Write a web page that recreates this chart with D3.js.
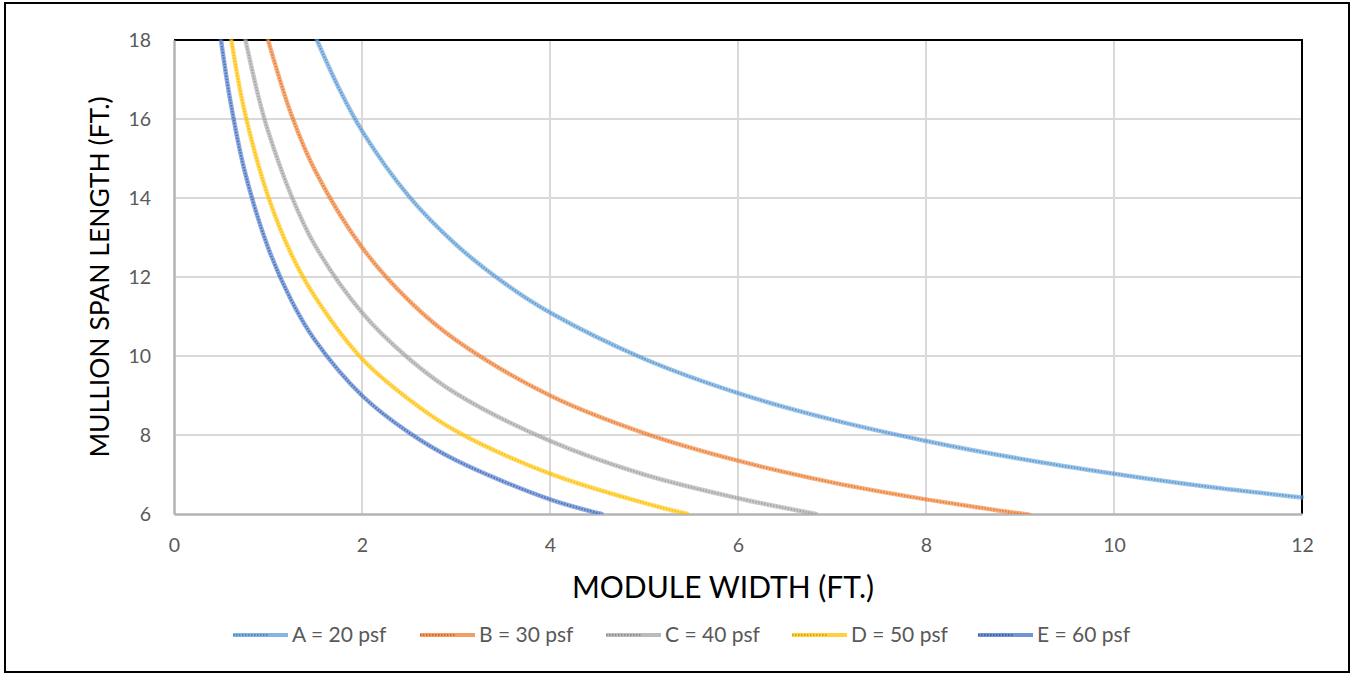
<!DOCTYPE html>
<html><head><meta charset="utf-8">
<script src="https://cdn.jsdelivr.net/npm/d3@7"></script>
<style>body{margin:0;background:#fff}svg{display:block}</style>
</head><body>
<svg id="c" width="1351" height="675"></svg>
<script>
// Data
const seriesNames = ["A = 20 psf", "B = 30 psf", "C = 40 psf", "D = 50 psf", "E = 60 psf"];
const seriesColors = ["#5b9bd5", "#ed7d31", "#a5a5a5", "#ffc000", "#4472c4"];
const xA = [1.52, 1.75, 2, 2.5, 3, 3.5, 4, 5, 6, 7, 8, 9, 10, 11, 12];
const yA = [18, 16.8, 15.7, 14.04, 12.82, 11.87, 11.1, 9.93, 9.06, 8.39, 7.85, 7.4, 7.02, 6.69, 6.42];
const xB = [1.0, 1.25, 1.5, 2, 2.5, 3, 4, 5, 6, 7, 8, 9.1];
const yB = [18, 16.1, 14.7, 12.75, 11.4, 10.4, 9.0, 8.05, 7.35, 6.8, 6.37, 5.98];
const xC = [0.76, 0.9, 1.0, 1.25, 1.5, 2, 2.5, 3, 4, 5, 6, 6.83];
const yC = [18, 16.55, 15.7, 14.05, 12.8, 11.1, 9.93, 9.05, 7.85, 7.0, 6.4, 6.0];
const xD = [0.61, 0.75, 1.0, 1.25, 1.5, 2, 2.5, 3, 4, 5, 5.46];
const yD = [18, 16.2, 14.05, 12.57, 11.5, 9.93, 8.9, 8.1, 7.02, 6.28, 6.0];
const xE = [0.5, 0.6, 0.75, 1.0, 1.25, 1.5, 2, 2.5, 3, 4, 4.55];
const yE = [18, 16.45, 14.7, 12.75, 11.4, 10.4, 9.0, 8.06, 7.36, 6.37, 6.0];
const xTicks = [0, 2, 4, 6, 8, 10, 12];
const yTicks = [6, 8, 10, 12, 14, 16, 18];
const xTitle = "MODULE WIDTH (FT.)";
const yTitle = "MULLION SPAN LENGTH (FT.)";

const seriesX = [xA, xB, xC, xD, xE];
const seriesY = [yA, yB, yC, yD, yE];

const svg = d3.select("#c");
const FONT = "Lato, 'Open Sans', sans-serif";
const L = 174, R = 1302, T = 40, B = 514;
const x = d3.scaleLinear().domain([0, 12]).range([L, R]);
const y = d3.scaleLinear().domain([6, 18]).range([B, T]);

// outer border
svg.append("rect").attr("x", 5).attr("y", 3).attr("width", 1344).attr("height", 669)
  .attr("fill", "#fff").attr("stroke", "#000").attr("stroke-width", 2);

// gridlines
svg.append("g").selectAll("line").data(xTicks.slice(1, -1)).join("line")
  .attr("x1", d => x(d)).attr("x2", d => x(d)).attr("y1", T).attr("y2", B)
  .attr("stroke", "#d9d9d9").attr("stroke-width", 2);
svg.append("g").selectAll("line").data(yTicks.slice(1, -1)).join("line")
  .attr("x1", L).attr("x2", R).attr("y1", d => y(d)).attr("y2", d => y(d))
  .attr("stroke", "#d9d9d9").attr("stroke-width", 2);

// plot frame: top & right black
svg.append("line").attr("x1", L).attr("x2", R + 1).attr("y1", T).attr("y2", T).attr("stroke", "#000").attr("stroke-width", 2);
svg.append("line").attr("x1", R).attr("x2", R).attr("y1", T).attr("y2", B).attr("stroke", "#000").attr("stroke-width", 2);

// axes
const xAxis = svg.append("g").attr("transform", `translate(0,${B})`)
  .call(d3.axisBottom(x).tickValues(xTicks).tickSize(0).tickPadding(24).tickFormat(d3.format("d")));
const yAxis = svg.append("g").attr("transform", `translate(${L},0)`)
  .call(d3.axisLeft(y).tickValues(yTicks).tickSize(0).tickPadding(23).tickFormat(d3.format("d")));
[xAxis, yAxis].forEach(g => {
  g.select(".domain").attr("stroke", "#b3b3b3").attr("stroke-width", 2.5);
  g.selectAll("text").attr("font-family", FONT).attr("font-size", 19.5).attr("fill", "#595959");
});

// series
const line = d3.line().x(d => x(d[0])).y(d => y(d[1])).curve(d3.curveCatmullRom.alpha(0.5));
svg.append("clipPath").attr("id", "pc").append("rect")
  .attr("x", L).attr("y", T - 1).attr("width", R - L + 2).attr("height", B - T + 1);
const gs = svg.append("g").attr("clip-path", "url(#pc)");
seriesX.forEach((xs, i) => {
  const pts = xs.map((v, j) => [v, seriesY[i][j]]);
  gs.append("path").attr("d", line(pts)).attr("fill", "none")
    .attr("stroke", seriesColors[i]).attr("stroke-width", 4.5).attr("stroke-opacity", 0.6)
    .attr("stroke-linecap", "round");
  gs.append("path").attr("d", line(pts)).attr("fill", "none")
    .attr("stroke", seriesColors[i]).attr("stroke-width", 2).attr("stroke-dasharray", "1.5,1.5");
});

// axis titles
svg.append("text").attr("x", (L + R) / 2 - 15).attr("y", 598).attr("text-anchor", "middle")
  .attr("font-family", FONT).attr("font-size", 30).attr("fill", "#000").text(xTitle);
svg.append("text").attr("transform", `translate(109,${(T + B) / 2}) rotate(-90)`)
  .attr("text-anchor", "middle").attr("font-family", FONT).attr("font-size", 26.5)
  .attr("fill", "#000").text(yTitle);

// legend
const legX = [233, 420, 606, 792, 978];
const lg = svg.append("g").selectAll("g").data(seriesNames).join("g")
  .attr("transform", (d, i) => `translate(${legX[i]},635)`);
lg.append("line").attr("x1", 0).attr("x2", 55).attr("y1", 0).attr("y2", 0)
  .attr("stroke", (d, i) => seriesColors[i]).attr("stroke-width", 4).attr("stroke-opacity", 0.75);
lg.append("line").attr("x1", 0).attr("x2", 35).attr("y1", 0).attr("y2", 0)
  .attr("stroke", (d, i) => d3.color(seriesColors[i]).darker(0.4)).attr("stroke-width", 2).attr("stroke-dasharray", "1.5,1.5");
lg.append("text").attr("x", 59).attr("y", 0).attr("dy", "0.35em")
  .attr("font-family", FONT).attr("font-size", 21).attr("fill", "#595959").text(d => d);
</script>
</body></html>
